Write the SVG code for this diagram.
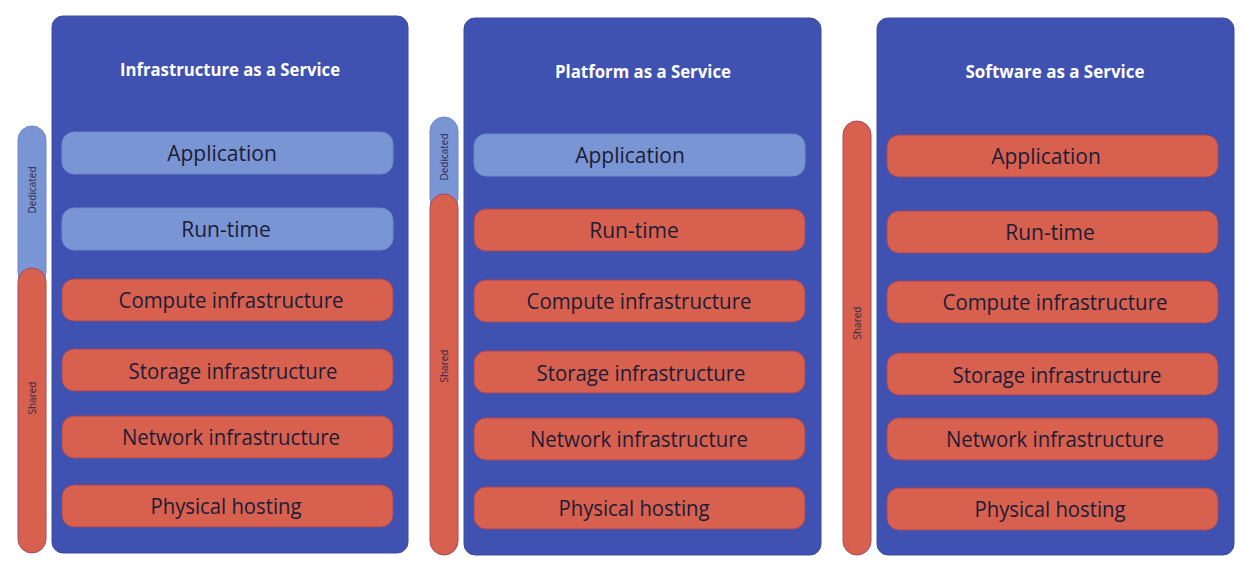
<svg xmlns="http://www.w3.org/2000/svg" width="1246" height="574" viewBox="0 0 1246 574">
<defs>
<style>
.panel{fill:#3f51b1;stroke:#3a4aa5;stroke-width:1}
.ded{fill:#7a95d4;stroke:#6f88c8;stroke-width:1}
.sh{fill:#d8604f;stroke:#a8485a;stroke-width:1}
.title{font-family:"Open Sans","Liberation Sans",sans-serif;font-weight:bold;font-size:17px;fill:#ffffff;text-anchor:middle}
.lbl{font-family:"Open Sans","Liberation Sans",sans-serif;font-size:21px;fill:#1b1d36;text-anchor:middle}
.side{font-family:"Open Sans","Liberation Sans",sans-serif;font-size:10px;fill:#2a2a48;text-anchor:middle}
</style>
</defs>
<rect width="1246" height="574" fill="#ffffff"/>

<g id="iaas">
<rect class="panel" x="52" y="16" width="356" height="537" rx="11"/>
<text class="title" x="230" y="76" textLength="220" lengthAdjust="spacingAndGlyphs">Infrastructure as a Service</text>
<rect class="ded" x="18" y="126" width="28" height="160" rx="14"/>
<rect class="sh" x="18" y="268" width="28" height="285" rx="14"/>
<text class="side" transform="translate(36,190) rotate(-90)">Dedicated</text>
<text class="side" transform="translate(36,398) rotate(-90)">Shared</text>
<rect class="ded" x="62" y="132" width="331" height="42" rx="12"/>
<text class="lbl" x="222" y="161">Application</text>
<rect class="ded" x="62" y="208" width="331" height="42" rx="12"/>
<text class="lbl" x="226" y="237">Run-time</text>
<rect class="sh" x="62" y="279" width="331" height="42" rx="12"/>
<text class="lbl" x="231" y="308" textLength="225" lengthAdjust="spacingAndGlyphs">Compute infrastructure</text>
<rect class="sh" x="62" y="349" width="331" height="42" rx="12"/>
<text class="lbl" x="233" y="379" textLength="209" lengthAdjust="spacingAndGlyphs">Storage infrastructure</text>
<rect class="sh" x="62" y="416" width="331" height="42" rx="12"/>
<text class="lbl" x="231" y="445" textLength="218" lengthAdjust="spacingAndGlyphs">Network infrastructure</text>
<rect class="sh" x="62" y="485" width="331" height="42" rx="12"/>
<text class="lbl" x="226" y="514" textLength="151" lengthAdjust="spacingAndGlyphs">Physical hosting</text>
</g>

<g id="paas">
<rect class="panel" x="464" y="18" width="357" height="537" rx="11"/>
<text class="title" x="643" y="78" textLength="176" lengthAdjust="spacingAndGlyphs">Platform as a Service</text>
<rect class="ded" x="430" y="117" width="28" height="95" rx="14"/>
<rect class="sh" x="430" y="194" width="28" height="361" rx="14"/>
<text class="side" transform="translate(448,157) rotate(-90)">Dedicated</text>
<text class="side" transform="translate(448,366) rotate(-90)">Shared</text>
<rect class="ded" x="474" y="134" width="331" height="42" rx="12"/>
<text class="lbl" x="630" y="163">Application</text>
<rect class="sh" x="474" y="209" width="331" height="42" rx="12"/>
<text class="lbl" x="634" y="238">Run-time</text>
<rect class="sh" x="474" y="280" width="331" height="42" rx="12"/>
<text class="lbl" x="639" y="309" textLength="225" lengthAdjust="spacingAndGlyphs">Compute infrastructure</text>
<rect class="sh" x="474" y="351" width="331" height="42" rx="12"/>
<text class="lbl" x="641" y="381" textLength="209" lengthAdjust="spacingAndGlyphs">Storage infrastructure</text>
<rect class="sh" x="474" y="418" width="331" height="42" rx="12"/>
<text class="lbl" x="639" y="447" textLength="218" lengthAdjust="spacingAndGlyphs">Network infrastructure</text>
<rect class="sh" x="474" y="487" width="331" height="42" rx="12"/>
<text class="lbl" x="634" y="516" textLength="151" lengthAdjust="spacingAndGlyphs">Physical hosting</text>
</g>

<g id="saas">
<rect class="panel" x="877" y="18" width="357" height="537" rx="11"/>
<text class="title" x="1055" y="78" textLength="179" lengthAdjust="spacingAndGlyphs">Software as a Service</text>
<rect class="sh" x="843" y="121" width="28" height="434" rx="14"/>
<text class="side" transform="translate(861,323) rotate(-90)">Shared</text>
<rect class="sh" x="887" y="135" width="331" height="42" rx="12"/>
<text class="lbl" x="1046" y="164">Application</text>
<rect class="sh" x="887" y="211" width="331" height="42" rx="12"/>
<text class="lbl" x="1050" y="240">Run-time</text>
<rect class="sh" x="887" y="281" width="331" height="42" rx="12"/>
<text class="lbl" x="1055" y="310" textLength="225" lengthAdjust="spacingAndGlyphs">Compute infrastructure</text>
<rect class="sh" x="887" y="353" width="331" height="42" rx="12"/>
<text class="lbl" x="1057" y="383" textLength="209" lengthAdjust="spacingAndGlyphs">Storage infrastructure</text>
<rect class="sh" x="887" y="418" width="331" height="42" rx="12"/>
<text class="lbl" x="1055" y="447" textLength="218" lengthAdjust="spacingAndGlyphs">Network infrastructure</text>
<rect class="sh" x="887" y="488" width="331" height="42" rx="12"/>
<text class="lbl" x="1050" y="517" textLength="151" lengthAdjust="spacingAndGlyphs">Physical hosting</text>
</g>

<g id="connectors"></g>
</svg>
